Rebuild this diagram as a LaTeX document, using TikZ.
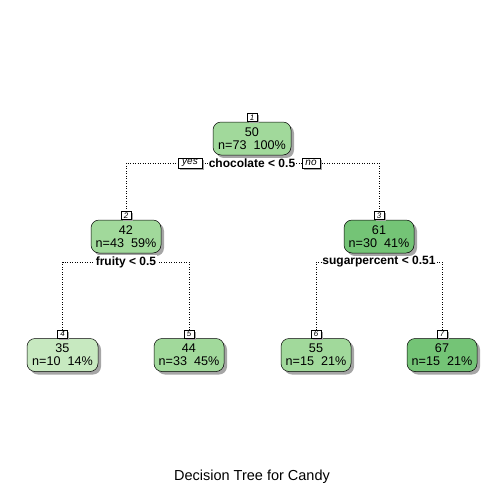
\documentclass[tikz,border=0pt]{standalone}
\usepackage{fontspec}
\setmainfont{Liberation Sans}
\usetikzlibrary{shadows}
\definecolor{gA}{HTML}{A1D99B}
\definecolor{gB}{HTML}{74C476}
\definecolor{gC}{HTML}{C7E9C0}
\tikzset{
  treenode/.style={draw=black, line width=0.5pt, rounded corners=8pt, minimum height=33pt, align=center,
    inner sep=1pt, font=\fontsize{12.6}{13}\selectfont,
    drop shadow={shadow xshift=3pt, shadow yshift=-3pt, fill=black!35, opacity=1}},
  numbox/.style={draw=black, line width=0.4pt, fill=white, inner sep=0.6pt, minimum width=10pt, minimum height=8pt,
    font=\fontsize{8}{8}\selectfont\itshape,
    drop shadow={shadow xshift=1.5pt, shadow yshift=-1.5pt, fill=black!35, opacity=1}},
  splitlab/.style={fill=white, inner sep=1pt, font=\fontsize{12}{13}\selectfont\bfseries},
  yesno/.style={draw=black, line width=0.4pt, fill=white, inner xsep=2pt, inner ysep=1pt, minimum height=10pt,
    font=\fontsize{10}{10}\selectfont\itshape,
    drop shadow={shadow xshift=1.5pt, shadow yshift=-1.5pt, fill=black!35, opacity=1}},
  conn/.style={dotted, line width=0.5pt},
}
\begin{document}
\begin{tikzpicture}[x=1pt,y=-1pt]
\useasboundingbox (0,0) rectangle (504,504);
% nodes
\node[treenode, fill=gA, minimum width=78pt] (n1) at (252,138.5) {50\\n=73\ \ 100\%};
\node[numbox, anchor=south] (l1) at (n1.north) {1};
\node[treenode, fill=gA, minimum width=70pt] (n2) at (126,236.5) {42\\n=43\ \ 59\%};
\node[numbox, anchor=south] (l2) at (n2.north) {2};
\node[treenode, fill=gB, minimum width=70pt] (n3) at (379,236.5) {61\\n=30\ \ 41\%};
\node[numbox, anchor=south] (l3) at (n3.north) {3};
\node[treenode, fill=gC, minimum width=71pt] (n4) at (62.5,355) {35\\n=10\ \ 14\%};
\node[numbox, anchor=south] (l4) at (n4.north) {4};
\node[treenode, fill=gA, minimum width=70pt] (n5) at (189,355) {44\\n=33\ \ 45\%};
\node[numbox, anchor=south] (l5) at (n5.north) {5};
\node[treenode, fill=gA, minimum width=70pt] (n6) at (316,355) {55\\n=15\ \ 21\%};
\node[numbox, anchor=south] (l6) at (n6.north) {6};
\node[treenode, fill=gB, minimum width=70pt] (n7) at (442,355) {67\\n=15\ \ 21\%};
\node[numbox, anchor=south] (l7) at (n7.north) {7};
% split labels
\node[splitlab] (s1) at (252,163) {chocolate < 0.5};
\node[yesno, minimum width=24pt] (yes) at (190,163) {yes};
\node[yesno, minimum width=18pt] (no) at (311,163) {no};
\node[splitlab] (s2) at (126,262) {fruity < 0.5};
\node[splitlab] (s3) at (379,262) {sugarpercent < 0.51};
% connectors
\draw[conn] (l2.north) |- (yes.west);
\draw[conn] (yes.east) -- (s1.west);
\draw[conn] (s1.east) -- (no.west);
\draw[conn] (l3.north) |- (no.east);
\draw[conn] (l4.north) |- (s2.west);
\draw[conn] (l5.north) |- (s2.east);
\draw[conn] (l6.north) |- (s3.west);
\draw[conn] (l7.north) |- (s3.east);
% title
\node[font=\fontsize{14.5}{15}\selectfont] (title) at (252,477) {Decision Tree for Candy};
\end{tikzpicture}
\end{document}
